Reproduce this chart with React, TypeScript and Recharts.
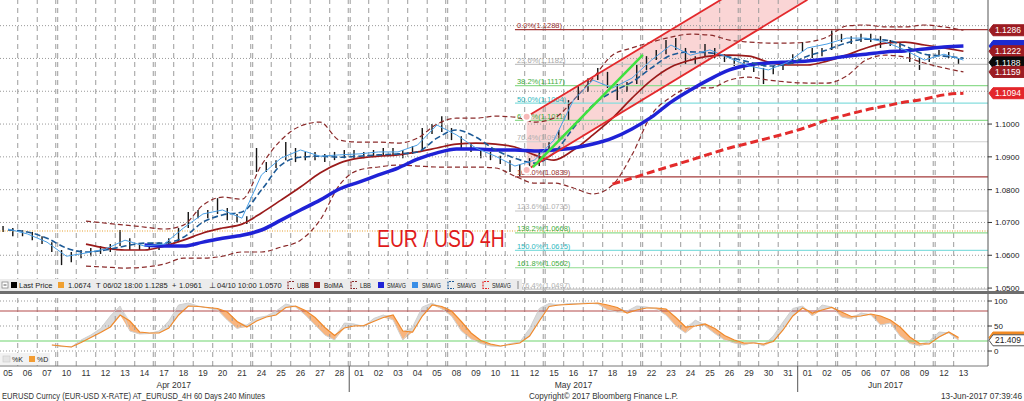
import React from 'react';
import { ComposedChart, Line, Bar, Area, XAxis, YAxis, ReferenceLine } from 'recharts';

const FONT = '"Liberation Sans", Arial, Helvetica, sans-serif';
const W = 1024;
const PLOT_W = 988;
const MAIN_H = 292;
const X0 = -0.41;
const X1 = 50.26;
const Y0 = 1.0488;
const Y1 = 1.13782;

// ---------- time axis ----------
const dayLabels = ['05','06','07','10','11','12','13','14','17','18','19','20','21','24','25','26','27','28',
  '01','02','03','04','05','08','09','10','11','12','15','16','17','18','19','22','23','24','25','26','29','30','31',
  '01','02','05','06','07','08','09','12','13'];
const monthLabels = ['Apr 2017', 'May 2017', 'Jun 2017'];
const monthFirstDay = [0, 18, 41];
const mondayIdx = [3, 8, 13, 18, 23, 28, 33, 38, 43, 48];

// ---------- price bars (two per day) ----------
const barLow = [
  1.0671, 1.0658, 1.0658, 1.0646, 1.0634, 1.0610, 1.0570, 1.0579, 1.0591, 1.0597,
  1.0604, 1.0610, 1.0628, 1.0616, 1.0616, 1.0616, 1.0616, 1.0628, 1.0640, 1.0683,
  1.0713, 1.0713, 1.0726, 1.0707, 1.0701, 1.0695, 1.0854, 1.0854, 1.0866, 1.0890,
  1.0884, 1.0890, 1.0890, 1.0884, 1.0890, 1.0896, 1.0896, 1.0896, 1.0903, 1.0903,
  1.0903, 1.0896, 1.0909, 1.0921, 1.0970, 1.0976, 1.0951, 1.0927, 1.0915, 1.0896,
  1.0890, 1.0878, 1.0854, 1.0841, 1.0860, 1.0872, 1.0915, 1.0945, 1.1012, 1.1073,
  1.1098, 1.1134, 1.1110, 1.1073, 1.1098, 1.1122, 1.1165, 1.1195, 1.1213, 1.1226,
  1.1183, 1.1183, 1.1207, 1.1201, 1.1189, 1.1177, 1.1165, 1.1159, 1.1122, 1.1152,
  1.1165, 1.1183, 1.1220, 1.1201, 1.1207, 1.1226, 1.1250, 1.1244, 1.1250, 1.1250,
  1.1232, 1.1238, 1.1226, 1.1189, 1.1165, 1.1189, 1.1207, 1.1201, 1.1183,
];
const barHigh = [
  1.0689, 1.0683, 1.0677, 1.0671, 1.0658, 1.0640, 1.0616, 1.0610, 1.0616, 1.0622,
  1.0628, 1.0634, 1.0677, 1.0652, 1.0634, 1.0634, 1.0640, 1.0652, 1.0683, 1.0732,
  1.0738, 1.0738, 1.0774, 1.0744, 1.0726, 1.0719, 1.0927, 1.0884, 1.0890, 1.0945,
  1.0927, 1.0915, 1.0915, 1.0909, 1.0915, 1.0921, 1.0921, 1.0915, 1.0921, 1.0927,
  1.0927, 1.0921, 1.0933, 1.0988, 1.1000, 1.1024, 1.0988, 1.0963, 1.0939, 1.0927,
  1.0915, 1.0903, 1.0890, 1.0878, 1.0896, 1.0921, 1.0945, 1.0982, 1.1073, 1.1116,
  1.1140, 1.1171, 1.1159, 1.1122, 1.1128, 1.1183, 1.1207, 1.1226, 1.1256, 1.1262,
  1.1232, 1.1207, 1.1244, 1.1232, 1.1213, 1.1201, 1.1189, 1.1183, 1.1171, 1.1177,
  1.1189, 1.1213, 1.1250, 1.1232, 1.1232, 1.1285, 1.1275, 1.1268, 1.1275, 1.1275,
  1.1268, 1.1256, 1.1250, 1.1226, 1.1201, 1.1213, 1.1226, 1.1220, 1.1201,
];

// ---------- daily studies ----------
const lightBlue = [
  1.0680, 1.0665, 1.0640, 1.0597, 1.0607, 1.0619, 1.0646, 1.0628, 1.0634, 1.0683,
  1.0726, 1.0738, 1.0713, 1.0845, 1.0896, 1.0921, 1.0902, 1.0906, 1.0909, 1.0915,
  1.0915, 1.0936, 1.0997, 1.0967, 1.0927, 1.0902, 1.0872, 1.0890, 1.0951, 1.1073,
  1.1134, 1.1110, 1.1140, 1.1195, 1.1241, 1.1210, 1.1226, 1.1201, 1.1177, 1.1165,
  1.1189, 1.1232, 1.1244, 1.1262, 1.1262, 1.1250, 1.1226, 1.1195, 1.1213, 1.1195,
];
const dashedBlue = [
  1.0677, 1.0671, 1.0652, 1.0622, 1.0610, 1.0616, 1.0628, 1.0637, 1.0637, 1.0655,
  1.0701, 1.0723, 1.0732, 1.0799, 1.0875, 1.0899, 1.0902, 1.0899, 1.0902, 1.0906,
  1.0909, 1.0915, 1.0957, 1.0982, 1.0960, 1.0921, 1.0896, 1.0881, 1.0912, 1.0988,
  1.1058, 1.1098, 1.1128, 1.1171, 1.1210, 1.1220, 1.1217, 1.1204, 1.1189, 1.1177,
  1.1183, 1.1207, 1.1226, 1.1247, 1.1259, 1.1256, 1.1238, 1.1213, 1.1207, 1.1201,
];
const bolMA = [
  null, null, null, null, 1.0634, 1.0622, 1.0616, 1.0616, 1.0628, 1.0646,
  1.0668, 1.0683, 1.0695, 1.0729, 1.0768, 1.0808, 1.0851, 1.0881, 1.0896, 1.0902,
  1.0906, 1.0915, 1.0927, 1.0939, 1.0942, 1.0939, 1.0930, 1.0906, 1.0890, 1.0921,
  1.0967, 1.1018, 1.1079, 1.1134, 1.1174, 1.1195, 1.1207, 1.1210, 1.1207, 1.1189,
  1.1180, 1.1180, 1.1192, 1.1210, 1.1232, 1.1247, 1.1250, 1.1241, 1.1232, 1.1222,
];
const upperBand = [
  null, null, null, null, 1.0704, 1.0698, 1.0692, 1.0686, 1.0680, 1.0692,
  1.0753, 1.0777, 1.0771, 1.0875, 1.0951, 1.0994, 1.1006, 1.0951, 1.0945, 1.0945,
  1.0942, 1.0957, 1.1000, 1.1018, 1.1018, 1.1024, 1.1021, 1.1006, 1.1018, 1.1073,
  1.1140, 1.1210, 1.1232, 1.1250, 1.1265, 1.1274, 1.1271, 1.1256, 1.1250, 1.1247,
  1.1247, 1.1250, 1.1265, 1.1299, 1.1302, 1.1296, 1.1296, 1.1302, 1.1296, 1.1286,
];
const lowerBand = [
  null, null, null, null, 1.0567, 1.0564, 1.0561, 1.0564, 1.0573, 1.0591,
  1.0591, 1.0597, 1.0610, 1.0610, 1.0625, 1.0646, 1.0707, 1.0814, 1.0860, 1.0869,
  1.0875, 1.0872, 1.0869, 1.0869, 1.0869, 1.0866, 1.0841, 1.0820, 1.0820, 1.0805,
  1.0787, 1.0814, 1.0906, 1.1028, 1.1082, 1.1110, 1.1110, 1.1134, 1.1143, 1.1134,
  1.1128, 1.1125, 1.1125, 1.1146, 1.1195, 1.1210, 1.1204, 1.1186, 1.1171, 1.1159,
];
const smaThick = [
  null, null, null, null, null, null, null, 1.0631, 1.0628, 1.0628,
  1.0640, 1.0652, 1.0661, 1.0677, 1.0707, 1.0738, 1.0768, 1.0802, 1.0823, 1.0845,
  1.0866, 1.0893, 1.0912, 1.0924, 1.0924, 1.0921, 1.0921, 1.0918, 1.0921, 1.0927,
  1.0939, 1.0957, 1.0985, 1.1021, 1.1067, 1.1104, 1.1137, 1.1165, 1.1180, 1.1186,
  1.1189, 1.1192, 1.1198, 1.1207, 1.1213, 1.1220, 1.1223, 1.1229, 1.1235, 1.1238,
];
const smaLong = [
  null, null, null, null, null, null, null, null, null, null,
  null, null, null, null, null, null, null, null, null, null,
  null, null, null, null, null, null, null, null, null, null,
  null, 1.0817, 1.0835, 1.0854, 1.0872, 1.0890, 1.0909, 1.0927, 1.0942, 1.0957,
  1.0973, 1.0991, 1.1012, 1.1028, 1.1043, 1.1055, 1.1067, 1.1076, 1.1089, 1.1094,
];

// ---------- stochastics (two per day) ----------
const stochK = [
  null, null, null, null, null, 12,
  9, 8, 22, 32, 45, 70, 90, 40, 34, 35, 40, 60, 92, 96, 90, 86, 82, 62, 45, 52,
  66, 70, 80, 94, 88, 72, 52, 32, 22, 56, 54, 48, 65, 72, 62, 22, 48, 88, 96, 84,
  70, 40, 24, 15, 10, 9, 15, 18, 45, 85, 95, 92, 95, 95, 96, 94, 82, 78, 80, 90,
  88, 84, 72, 50, 36, 62, 50, 35, 22, 16, 12, 18, 10, 30, 58, 85, 90, 70, 92, 88,
  68, 64, 76, 72, 52, 56, 30, 15, 10, 20, 38, 36,
  21.409,
];
const stochD = [
  null, null, null, null, null, 12,
  10, 8, 17, 27, 37, 48, 72, 60, 38, 36, 36, 46, 72, 90, 89, 87, 85, 78, 59, 48,
  60, 68, 72, 87, 90, 81, 67, 47, 31, 46, 50, 51, 59, 67, 72, 40, 38, 70, 92, 89,
  80, 59, 36, 21, 14, 10, 13, 16, 30, 60, 89, 92, 93, 94, 95, 96, 92, 87, 76, 82,
  86, 86, 84, 67, 48, 50, 54, 45, 31, 22, 16, 16, 14, 19, 42, 70, 86, 76, 82, 87,
  78, 69, 70, 74, 70, 62, 48, 28, 15, 14, 28, 38,
  27,
];

// ---------- annotations ----------
const fibLevels = [0, 23.6, 38.2, 50, 61.8, 76.4, 100, 123.6, 138.2, 150, 161.8, 176.4];
const fibPrices = [1.1288, 1.1182, 1.1117, 1.1064, 1.1011, 1.0946, 1.0839, 1.0735, 1.0668, 1.0615, 1.0562, 1.0497];
const fibLineColors = ['#a33a3a', '#c4c4c4', '#8fdc8f', '#86dede', '#8fdc8f', '#d0d0d0', '#a33a3a', '#c4c4c4', '#8fdc8f', '#86dede', '#8fdc8f', '#c4c4c4'];
const fibTextColors = ['#9a3030', '#a8a8a8', '#3fae3f', '#2eb7c0', '#3fae3f', '#b0b0b0', '#9a3030', '#b0b0b0', '#3fae3f', '#2eb7c0', '#3fae3f', '#b0b0b0'];
const fibStartDay = 26;
const channelDays = [26.6, 41];
const channelUpper = [1.1022, 1.1538];
const channelLower = [1.0860, 1.1379];
const trendDays = [26.92, 32.56];
const trendPrices = [1.0869, 1.1211];
const avgPrice = 1.0674;
const priceGrid = [1.05, 1.06, 1.07, 1.08, 1.09, 1.1, 1.11, 1.12, 1.13];
const priceTicks = [1.05, 1.06, 1.07, 1.08, 1.09, 1.1];
const tagValues = [1.1238, 1.1286, 1.1222, 1.1188, 1.1159, 1.1094];
const tagFills = ['#1c2bd0', '#9c1c22', '#9c1c22', '#0a0a0a', '#9c1c22', '#e3262b'];
const tagShowText = [false, true, true, true, true, true];

// ---------- rows ----------
const halfDayT = (k: number) => Math.floor(k / 2) + (k % 2 === 0 ? -0.25 : 0.25);
const barRows = barLow.map((lo, k) => ({ t: halfDayT(k), range: [lo, barHigh[k]] }));
const dailyRows = dayLabels.map((_, i) => ({
  t: i, lb: lightBlue[i], db: dashedBlue[i], mid: bolMA[i], ub: upperBand[i], lbb: lowerBand[i], s1: smaThick[i], s2: smaLong[i],
}));
const channelRows = channelDays.map((t, j) => ({ t, band: [channelLower[j], channelUpper[j]], up: channelUpper[j], lo: channelLower[j] }));
const trendRows = trendDays.map((t, j) => ({ t, p: trendPrices[j] }));
const stochRows = stochK.map((k, n) => {
  const d = stochD[n];
  return {
    t: halfDayT(n), k, d,
    upFill: k == null || d == null ? null : [d, Math.max(k, d)],
    dnFill: k == null || d == null ? null : [Math.min(k, d), d],
  };
});
const gridX: number[] = [];
for (let i = 0; i < dayLabels.length - 1; i++) {
  const b = i + 0.5;
  if (mondayIdx.includes(i + 1)) gridX.push(b - 0.05, b + 0.05);
  else gridX.push(b);
}
const dayIdx = dayLabels.map((_, i) => i);
const dayPx = PLOT_W / (X1 - X0);
const priceY = (v: number) => ((Y1 - v) / (Y1 - Y0)) * MAIN_H;

const TagShape = (p: any, text: string | null, fill: string, color: string, stroke?: string) => {
  const x = Math.max(p.x1, p.x2);
  const y = p.y1;
  return (
    <g>
      <path d={`M${x + 1},${y} L${x + 5},${y - 5.5} L${x + 40},${y - 5.5} L${x + 40},${y + 5.5} L${x + 5},${y + 5.5} Z`}
        fill={fill} stroke={stroke || fill} strokeWidth={1} />
      {text ? <text x={x + 7} y={y + 3.2} fontSize={8.5} fontFamily={FONT} fill={color}>{text}</text> : null}
    </g>
  );
};

const DayTick = (props: any) => {
  const { x, y, payload } = props;
  const i = payload.value as number;
  const m = monthFirstDay.indexOf(i);
  const els: any[] = [];
  els.push(<text key="d" x={x} y={y + 10} textAnchor="middle" fontSize={8.5} fontFamily={FONT} fill="#333">{dayLabels[i]}</text>);
  if (m > 0) els.push(<line key="s" x1={x - dayPx / 2} x2={x - dayPx / 2} y1={y} y2={y + 26} stroke="#555" strokeWidth={1} />);
  monthLabels.forEach((lab, mi) => {
    const first = monthFirstDay[mi];
    const last = mi + 1 < monthFirstDay.length ? monthFirstDay[mi + 1] - 1 : dayLabels.length - 1;
    const c = (first + last) / 2;
    if (Math.floor(c) === i) {
      els.push(<text key={'m' + mi} x={x + (c - i) * dayPx} y={y + 22} textAnchor="middle" fontSize={8.5} fontFamily={FONT} fill="#333">{lab}</text>);
    }
  });
  return <g>{els}</g>;
};

const LegendIconBracket = ({ x, color, dashed }: { x: number; color: string; dashed?: boolean }) => (
  <path d={`M${x + 7},2.5 H${x + 1} V9.5 H${x + 7}`} stroke={color} strokeWidth={1.2} fill="none" strokeDasharray={dashed ? '2 1' : undefined} />
);

export default function App() {
  const lastK = stochK[stochK.length - 1] as number;
  const lastD = stochD[stochD.length - 1] as number;
  return (
    <div style={{ position: 'absolute', left: 0, top: 0, width: W, height: 401, background: '#fff', overflow: 'hidden', fontFamily: FONT }}>
      {/* main price panel */}
      <div style={{ position: 'absolute', left: 0, top: 0 }}>
        <ComposedChart width={W} height={MAIN_H} data={barRows} margin={{ top: 0, right: 0, bottom: 0, left: 0 }}>
          <XAxis type="number" dataKey="t" domain={[X0, X1]} hide allowDataOverflow />
          <YAxis orientation="right" width={36} domain={[Y0, Y1]} allowDataOverflow
            tick={false} tickLine={false} axisLine={{ stroke: '#555' }} />
          {priceGrid.map((v) => <ReferenceLine key={'h' + v} y={v} stroke="#999" strokeDasharray="1 2" />)}
          {gridX.map((b) => <ReferenceLine key={'v' + b} x={b} stroke="#9c9c9c" strokeDasharray="5 4" />)}
          <ReferenceLine y={avgPrice} stroke="#e6a030" strokeDasharray="1 1.5" strokeWidth={1.2} />
          {fibLevels.map((lv, j) => (
            <ReferenceLine key={'f' + j} segment={[{ x: fibStartDay, y: fibPrices[j] }, { x: X1, y: fibPrices[j] }]}
              shape={(p: any) => (
                <g>
                  <line x1={p.x1} y1={p.y1} x2={p.x2} y2={p.y2} stroke={fibLineColors[j]} strokeWidth={1.2} />
                  <text x={Math.min(p.x1, p.x2) + 2} y={p.y1 - 1.5} fontSize={7.5} fontFamily={FONT} fill={fibTextColors[j]}>
                    {`${lv.toFixed(1)}%(${fibPrices[j].toFixed(4)})`}
                  </text>
                </g>
              )} />
          ))}
          <Area data={channelRows} dataKey="band" type="linear" fill="#f7b9b9" fillOpacity={0.6} stroke="none" isAnimationActive={false} />
          <Bar dataKey="range" barSize={3} fill="#151515" isAnimationActive={false} />
          <Line data={dailyRows} dataKey="ub" type="monotone" stroke="#8a2a2a" strokeWidth={1.2} strokeDasharray="5 3" dot={false} activeDot={false} isAnimationActive={false} />
          <Line data={dailyRows} dataKey="lbb" type="monotone" stroke="#8a2a2a" strokeWidth={1.2} strokeDasharray="5 3" dot={false} activeDot={false} isAnimationActive={false} />
          <Line data={dailyRows} dataKey="mid" type="monotone" stroke="#9a1a1a" strokeWidth={1.7} dot={false} activeDot={false} isAnimationActive={false} />
          <Line data={dailyRows} dataKey="s1" type="monotone" stroke="#1f22d6" strokeWidth={3.5} dot={false} activeDot={false} isAnimationActive={false} />
          <Line data={dailyRows} dataKey="db" type="monotone" stroke="#1d5a96" strokeWidth={1.6} strokeDasharray="6 3" dot={false} activeDot={false} isAnimationActive={false} />
          <Line data={dailyRows} dataKey="lb" type="linear" stroke="#4aa0e6" strokeWidth={1} dot={false} activeDot={false} isAnimationActive={false} />
          <Line data={dailyRows} dataKey="s2" type="monotone" stroke="#e32b2b" strokeWidth={3} strokeDasharray="8 4" dot={false} activeDot={false} isAnimationActive={false} />
          <Line data={channelRows} dataKey="up" type="linear" stroke="#e3292c" strokeWidth={1.8} dot={false} activeDot={false} isAnimationActive={false} />
          <Line data={channelRows} dataKey="lo" type="linear" stroke="#e3292c" strokeWidth={1.8} dot={false} activeDot={false} isAnimationActive={false} />
          <Line data={trendRows} dataKey="p" type="linear" stroke="#3fe23f" strokeWidth={2.5} dot={false} activeDot={false} isAnimationActive={false} />
          {tagValues.map((v, j) => (
            <ReferenceLine key={'tag' + j} y={v} shape={(p: any) => TagShape(p, tagShowText[j] ? v.toFixed(4) : null, tagFills[j], '#fff')} />
          ))}
        </ComposedChart>
      </div>

      {/* stochastic panel */}
      <div style={{ position: 'absolute', left: 0, top: 294 }}>
        <ComposedChart width={W} height={98} data={stochRows} margin={{ top: 0, right: 0, bottom: 0, left: 0 }}>
          <XAxis type="number" dataKey="t" domain={[X0, X1]} allowDataOverflow ticks={dayIdx} interval={0}
            tick={(p: any) => <DayTick {...p} />} tickSize={0} tickMargin={0} height={26}
            axisLine={{ stroke: '#777' }} tickLine={false} />
          <YAxis orientation="right" width={36} domain={[-30, 114]} allowDataOverflow ticks={[0, 50, 100]} interval={0}
            tick={{ fontSize: 8, fill: '#222', fontFamily: FONT }} tickSize={4} tickMargin={2}
            axisLine={{ stroke: '#555' }} tickLine={{ stroke: '#333' }} />
          {[0, 50, 100].map((v) => <ReferenceLine key={'sh' + v} y={v} stroke="#999" strokeDasharray="1 2" />)}
          {gridX.map((b) => <ReferenceLine key={'sv' + b} x={b} stroke="#9c9c9c" strokeDasharray="5 4" />)}
          <ReferenceLine y={80} stroke="#b34a4a" strokeWidth={1.2} />
          <ReferenceLine y={20} stroke="#6fd36f" strokeWidth={1.2} />
          <Area dataKey="upFill" type="linear" fill="#d6d6d6" fillOpacity={0.9} stroke="none" isAnimationActive={false} />
          <Area dataKey="dnFill" type="linear" fill="#f7a868" fillOpacity={0.85} stroke="none" isAnimationActive={false} />
          <Line dataKey="k" type="linear" stroke="#d0d0d0" strokeWidth={1} dot={false} activeDot={false} isAnimationActive={false} />
          <Line dataKey="d" type="linear" stroke="#f0892a" strokeWidth={1.2} dot={false} activeDot={false} isAnimationActive={false} />
          <ReferenceLine y={lastD} shape={(p: any) => TagShape(p, null, '#f08a24', '#fff')} />
          <ReferenceLine y={lastK} shape={(p: any) => TagShape(p, lastK.toFixed(3), '#fff', '#222', '#555')} />
        </ComposedChart>
      </div>

      {/* overlay texts */}
      <svg width={W} height={401} style={{ position: 'absolute', left: 0, top: 0, pointerEvents: 'none' }}>
        <text transform="translate(377,247) scale(0.806,1)" x={0} y={0} fontSize={24} fontFamily={FONT} fill="#e01b1b">EUR / USD 4H</text>

        {/* right price axis labels */}
        <g fontFamily={FONT} fontSize={8} fill="#222">
          {priceTicks.map((v) => (
            <g key={'yl' + v}>
              <line x1={PLOT_W} x2={PLOT_W + 4} y1={priceY(v)} y2={priceY(v)} stroke="#333" />
              <text x={PLOT_W + 7} y={priceY(v) + 3}>{v.toFixed(4)}</text>
            </g>
          ))}
        </g>

        {/* main legend row */}
        <g transform="translate(0,279)" fontFamily={FONT} fontSize={7.5} fill="#222">
          <rect x={0} y={0} width={522} height={12} fill="#ececec" />
          <rect x={2} y={3} width={6} height={6} fill="#fff" stroke="#888" strokeWidth={0.8} />
          <line x1={3.5} x2={6.5} y1={6} y2={6} stroke="#555" />
          <rect x={11} y={3} width={6} height={6} fill="#000" />
          <text x={19} y={9}>Last Price</text>
          <rect x={58} y={3} width={6} height={6} fill="#f0a030" />
          <text x={68} y={9}>1.0674</text>
          <text x={96} y={9}>T</text>
          <text x={103} y={9}>06/02 18:00 1.1285</text>
          <text x={172} y={9}>+</text>
          <text x={179} y={9}>1.0961</text>
          <text x={209} y={9}>⊥</text>
          <text x={217} y={9}>04/10 10:00 1.0570</text>
          <LegendIconBracket x={287} color="#8a2a2a" dashed />
          <text x={297} y={9} textLength={12} lengthAdjust="spacingAndGlyphs">UBB</text>
          <rect x={314} y={3} width={6} height={6} fill="#9a1a1a" />
          <text x={324} y={9} textLength={19} lengthAdjust="spacingAndGlyphs">BolMA</text>
          <LegendIconBracket x={350} color="#8a2a2a" dashed />
          <text x={360} y={9} textLength={11} lengthAdjust="spacingAndGlyphs">LBB</text>
          <rect x={378} y={3} width={6} height={6} fill="#1f22d6" />
          <text x={387} y={9} textLength={19} lengthAdjust="spacingAndGlyphs">SMAVG</text>
          <rect x={412} y={3} width={6} height={6} fill="#3a8ee6" />
          <text x={422} y={9} textLength={19} lengthAdjust="spacingAndGlyphs">SMAVG</text>
          <LegendIconBracket x={447} color="#1d5a96" dashed />
          <text x={457} y={9} textLength={19} lengthAdjust="spacingAndGlyphs">SMAVG</text>
          <LegendIconBracket x={482} color="#e32b2b" dashed />
          <text x={492} y={9} textLength={19} lengthAdjust="spacingAndGlyphs">SMAVG</text>
          <line x1={518} x2={518} y1={2} y2={10} stroke="#888" />
        </g>

        {/* panel separator */}
        <rect x={0} y={291} width={W} height={3} fill="#6e6e6e" />

        {/* stochastic legend */}
        <g transform="translate(0,353)" fontFamily={FONT} fontSize={7} fill="#222">
          <rect x={0} y={0} width={50} height={12} fill="#f2f2f2" />
          <rect x={3} y={3} width={7} height={6} fill="#e4e4e4" stroke="#c8c8c8" strokeWidth={0.6} />
          <text x={12} y={9}>%K</text>
          <rect x={29} y={3} width={6} height={6} fill="#f39c32" />
          <text x={37} y={9}>%D</text>
        </g>

        {/* footer */}
        <g fontFamily={FONT} fontSize={8.5} fill="#333">
          <text x={2} y={399} textLength={263} lengthAdjust="spacingAndGlyphs">EURUSD Curncy (EUR-USD X-RATE) AT_EURUSD_4H 60 Days 240 Minutes</text>
          <text x={529} y={399} textLength={149} lengthAdjust="spacingAndGlyphs">Copyright© 2017 Bloomberg Finance L.P.</text>
          <text x={941} y={399} textLength={81} lengthAdjust="spacingAndGlyphs">13-Jun-2017 07:39:46</text>
        </g>
      </svg>
    </div>
  );
}
